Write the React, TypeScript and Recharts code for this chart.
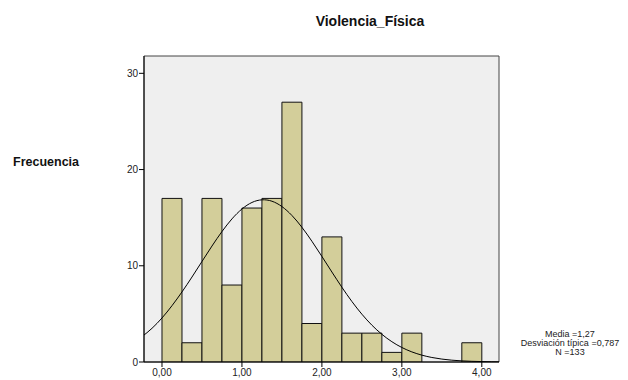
import { ComposedChart, Bar, Line, XAxis, YAxis, CartesianGrid, ReferenceArea } from 'recharts'

// histograma de Violencia_Física (ancho de intervalo 0,25)
const binCenters = [0.125, 0.375, 0.625, 0.875, 1.125, 1.375, 1.625, 1.875, 2.125, 2.375, 2.625, 2.875, 3.125, 3.375, 3.625, 3.875]
const counts = [17, 2, 17, 8, 16, 17, 27, 4, 13, 3, 3, 1, 3, 0, 0, 2]

// curva normal (en los centros de los intervalos)
const curveX = [-0.375, -0.125, 0.125, 0.375, 0.625, 0.875, 1.125, 1.375, 1.625, 1.875, 2.125, 2.375, 2.625, 2.875, 3.125, 3.375, 3.625, 3.875, 4.125, 4.375]
const curveY = [1.9, 3.5, 5.85, 8.83, 12.05, 14.87, 16.58, 16.71, 15.23, 12.55, 9.35, 6.29, 3.83, 2.11, 1.05, 0.47, 0.19, 0.07, 0.02, 0.01]

const xTicks = [0, 1, 2, 3, 4]
const yTicks = [0, 10, 20, 30]
const statsLines = ['Media =1,27', 'Desviación típica =0,787', 'N =133']

const X_MIN = -0.225
const X_MAX = 4.215
const Y_MAX = 31.8

const font = '"Liberation Sans", Arial, sans-serif'

const binRows = binCenters.map((x, i) => ({ x, count: counts[i] }))
const curveRows = curveX.map((x, i) => ({ x, curve: curveY[i] }))

export default function App() {
  return (
    <div style={{ position: 'absolute', left: 0, top: 0, width: 628, height: 380, background: '#fff', fontFamily: font }}>
      <ComposedChart
        width={628}
        height={380}
        data={binRows}
        barCategoryGap={0}
        barGap={0}
        margin={{ top: 56, right: 129, bottom: 0, left: 114 }}
      >
        <CartesianGrid fill="#efefef" horizontal={false} vertical={false} />
        <XAxis
          dataKey="x"
          type="number"
          domain={[X_MIN, X_MAX]}
          allowDataOverflow
          ticks={xTicks}
          tickFormatter={(v: number) => v.toFixed(2).replace('.', ',')}
          tick={{ fill: '#222', fontSize: 10, fontFamily: font }}
          stroke="#000"
          tickSize={5}
          height={18}
        />
        <YAxis
          type="number"
          domain={[0, Y_MAX]}
          allowDataOverflow
          ticks={yTicks}
          tick={{ fill: '#222', fontSize: 10, fontFamily: font }}
          stroke="#000"
          tickSize={5}
          tickMargin={1}
          width={30}
        />
        <ReferenceArea x1={X_MIN} x2={X_MAX} y1={0} y2={Y_MAX} fill="none" fillOpacity={0} stroke="#444" strokeWidth={1} ifOverflow="visible" />
        <Bar dataKey="count" fill="#d3ce9a" stroke="#111" strokeWidth={1} isAnimationActive={false} />
        <Line data={curveRows} dataKey="curve" type="natural" stroke="#000" strokeWidth={1} dot={false} isAnimationActive={false} />
      </ComposedChart>

      <div style={{ position: 'absolute', left: 270, width: 200, top: 13, textAlign: 'center', fontSize: 14, fontWeight: 'bold', color: '#111' }}>
        Violencia_Física
      </div>
      <div style={{ position: 'absolute', left: 13, top: 155, fontSize: 12.5, fontWeight: 'bold', color: '#111' }}>
        Frecuencia
      </div>
      <div style={{ position: 'absolute', left: 500, width: 140, top: 330, textAlign: 'center', fontSize: 9, lineHeight: '9px', color: '#222' }}>
        {statsLines.map((s) => (
          <div key={s}>{s}</div>
        ))}
      </div>
    </div>
  )
}
